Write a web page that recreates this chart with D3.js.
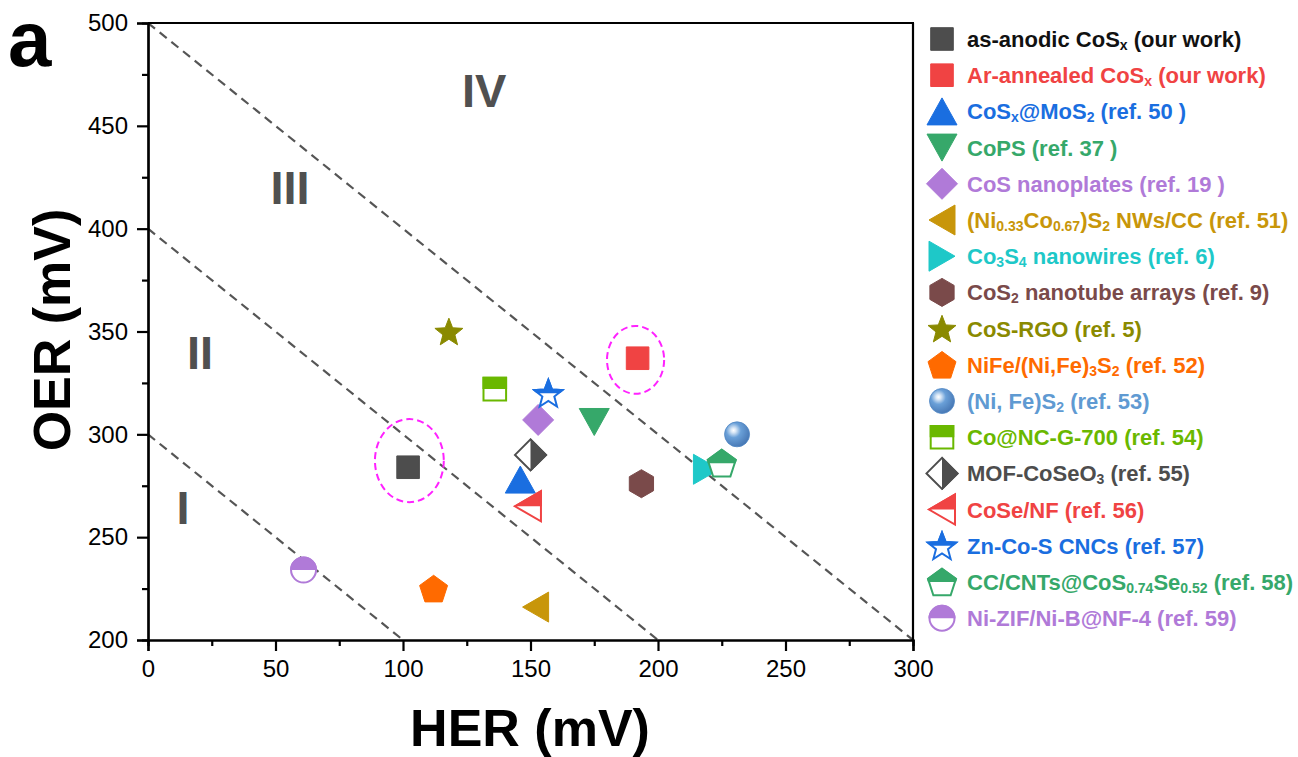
<!DOCTYPE html>
<html><head><meta charset="utf-8">
<script src="https://cdn.jsdelivr.net/npm/d3@7"></script>
<style>body{margin:0;background:#fff}svg{display:block}text{font-family:"Liberation Sans",Arial,Helvetica,sans-serif}</style>
</head><body><svg id="c" width="1298" height="757"></svg>
<script>
// ---------- data ----------
const names = [
  "as-anodic CoS_{x} (our work)",
  "Ar-annealed CoS_{x} (our work)",
  "CoS_{x}@MoS_{2} (ref. 50 )",
  "CoPS (ref. 37 )",
  "CoS nanoplates (ref. 19 )",
  "(Ni_{0.33}Co_{0.67})S_{2} NWs/CC (ref. 51)",
  "Co_{3}S_{4} nanowires (ref. 6)",
  "CoS_{2} nanotube arrays (ref. 9)",
  "CoS-RGO (ref. 5)",
  "NiFe/(Ni,Fe)_{3}S_{2} (ref. 52)",
  "(Ni, Fe)S_{2} (ref. 53)",
  "Co@NC-G-700 (ref. 54)",
  "MOF-CoSeO_{3} (ref. 55)",
  "CoSe/NF (ref. 56)",
  "Zn-Co-S CNCs (ref. 57)",
  "CC/CNTs@CoS_{0.74}Se_{0.52} (ref. 58)",
  "Ni-ZIF/Ni-B@NF-4 (ref. 59)"
];
const herValues = [102, 192, 146, 175, 153, 152, 219, 193.5, 118, 112, 231, 136, 150, 149, 157, 225, 61];
const oerValues = [284, 337, 278, 306, 307, 216, 283, 276, 350, 225, 300, 322, 290, 265, 320, 286, 234];
const markerShapes = ["square","square","triUp","triDown","diamond","triLeft","triRight","hexagon","star","pentagon","sphere","square","diamond","triLeft","star","pentagon","circle"];
const markerFill = ["full","full","full","full","full","full","full","full","full","full","full","top","right","top","top","top","top"];
const markerColors = ["#4d4d4d","#f04343","#1a6ee0","#36a86a","#b07ad8","#c8960a","#1ec8c8","#7a4a4a","#8a8a00","#ff6a00","#5f9ad2","#6ab800","#4d4d4d","#f04343","#1a6ee0","#36a86a","#b07ad8"];
const textColors = ["#111111","#f04343","#1a6ee0","#36a86a","#b07ad8","#c8960a","#1ec8c8","#7a4a4a","#8a8a00","#ff6a00","#5f9ad2","#6ab800","#4d4d4d","#f04343","#1a6ee0","#36a86a","#b07ad8"];
const xTicks = [0, 50, 100, 150, 200, 250, 300];
const yTicks = [200, 250, 300, 350, 400, 450, 500];
const guideSums = [300, 400, 500];           // HER + OER = const
const regionNames = ["I", "II", "III", "IV"];
const regionHer = [13.7, 20.4, 55.7, 131.8];
const regionOer = [256.4, 331.8, 412, 459.2];
const highlightHer = [102.5, 191.2];
const highlightOer = [287.2, 336.2];
const highlightRx = [13.5, 11.2];
const highlightRy = [20.2, 16.5];

// ---------- layout ----------
const svg = d3.select("#c");
const L = 148, R = 913, T = 23, B = 640;
const x = d3.scaleLinear().domain([0, 300]).range([L, R]);
const y = d3.scaleLinear().domain([200, 500]).range([B, T]);

const defs = svg.append("defs");
defs.append("clipPath").attr("id","clipTop").append("rect").attr("x",-40).attr("y",-40).attr("width",80).attr("height",40);
defs.append("clipPath").attr("id","clipRight").append("rect").attr("x",0).attr("y",-40).attr("width",40).attr("height",80);
defs.append("clipPath").attr("id","plotClip").append("rect").attr("x",L).attr("y",T).attr("width",R-L).attr("height",B-T);
const grad = defs.append("radialGradient").attr("id","sphereGrad").attr("cx","0.36").attr("cy","0.34").attr("r","0.7").attr("fx","0.36").attr("fy","0.34");
grad.append("stop").attr("offset","0").attr("stop-color","#ffffff");
grad.append("stop").attr("offset","0.14").attr("stop-color","#d9e7f6");
grad.append("stop").attr("offset","0.42").attr("stop-color","#6aa0d8");
grad.append("stop").attr("offset","1").attr("stop-color","#4676b3");

function shapePath(s) {
  const pts = [];
  const poly = p => "M" + p.map(q => q[0].toFixed(2) + "," + q[1].toFixed(2)).join("L") + "Z";
  switch (s) {
    case "square": { const h = 11.3; return poly([[-h,-h],[h,-h],[h,h],[-h,h]]); }
    case "triUp": { const w = 15, h = 13.5; return poly([[0,-h],[w,h],[-w,h]]); }
    case "triDown": { const w = 15, h = 13.5; return poly([[0,h],[w,-h],[-w,-h]]); }
    case "triLeft": { const w = 13, h = 15; return poly([[-w,0],[w,-h],[w,h]]); }
    case "triRight": { const w = 13, h = 15; return poly([[w,0],[-w,-h],[-w,h]]); }
    case "diamond": { const r = 15.5; return poly([[0,-r],[r,0],[0,r],[-r,0]]); }
    case "hexagon": { const r = 14; for (let i=0;i<6;i++){const a=-Math.PI/2+i*Math.PI/3; pts.push([r*Math.cos(a), r*Math.sin(a)]);} return poly(pts); }
    case "pentagon": { const r = 14.7, off = (r - r*Math.cos(Math.PI/5))/2; for (let i=0;i<5;i++){const a=-Math.PI/2+i*2*Math.PI/5; pts.push([r*Math.cos(a), r*Math.sin(a)+off]);} return poly(pts); }
    case "star": { const r = 14.7, ri = 6.3, off = (r - r*Math.cos(Math.PI/5))/2; for (let i=0;i<10;i++){const a=-Math.PI/2+i*Math.PI/5; const rr = i%2? ri : r; pts.push([rr*Math.cos(a), rr*Math.sin(a)+off]);} return poly(pts); }
    default: { const r = 12.5; return `M${-r},0A${r},${r} 0 1,0 ${r},0A${r},${r} 0 1,0 ${-r},0Z`; }
  }
}

function drawMarker(g, i) {
  const s = markerShapes[i], c = markerColors[i], f = markerFill[i];
  const d = shapePath(s);
  if (s === "sphere") {
    g.append("path").attr("d", shapePath("sphere")).attr("fill","url(#sphereGrad)").attr("stroke","#4f86c4").attr("stroke-width",0.8);
    return;
  }
  if (f === "full") {
    g.append("path").attr("d", d).attr("fill", c).attr("stroke", c).attr("stroke-width", 1).attr("stroke-linejoin","miter");
  } else {
    g.append("path").attr("d", d).attr("fill", "#fff").attr("stroke", c).attr("stroke-width", 2);
    g.append("path").attr("d", d).attr("fill", c).attr("stroke", c).attr("stroke-width", 2)
      .attr("clip-path", f === "top" ? "url(#clipTop)" : "url(#clipRight)");
  }
}

// ---------- guide lines ----------
const plot = svg.append("g").attr("clip-path","url(#plotClip)");
plot.selectAll("line.guide").data(guideSums).join("line").attr("class","guide")
  .attr("x1", d => x(0)).attr("y1", d => y(d))
  .attr("x2", d => x(d - 200)).attr("y2", d => y(200))
  .attr("stroke","#555").attr("stroke-width",2.2).attr("stroke-dasharray","9,6");

// region labels
svg.selectAll("text.region").data(regionNames).join("text").attr("class","region")
  .attr("x",(d,i)=>x(regionHer[i])).attr("y",(d,i)=>y(regionOer[i]))
  .attr("text-anchor","middle").attr("font-size",47).attr("font-weight","bold").attr("fill","#505050")
  .text(d=>d);

// highlight ellipses
svg.selectAll("ellipse.hl").data(highlightHer).join("ellipse").attr("class","hl")
  .attr("cx",(d,i)=>x(d)).attr("cy",(d,i)=>y(highlightOer[i]))
  .attr("rx",(d,i)=>x(highlightRx[i]) - x(0)).attr("ry",(d,i)=>y(200) - y(200 + highlightRy[i]))
  .attr("fill","none").attr("stroke","#ff22ff").attr("stroke-width",2).attr("stroke-dasharray","7,4");

// ---------- axes ----------
const ax = svg.append("g");
ax.append("line").attr("x1",L).attr("x2",R+1).attr("y1",T).attr("y2",T).attr("stroke","#000").attr("stroke-width",2.2);
ax.append("line").attr("x1",R).attr("x2",R).attr("y1",T).attr("y2",B).attr("stroke","#000").attr("stroke-width",2.2);

const xAxis = d3.axisBottom(x).tickValues(xTicks).tickSize(11).tickPadding(9).tickFormat(d3.format("d"));
const xMinor = d3.axisBottom(x).tickValues(d3.range(25, 300, 50)).tickSize(6).tickFormat("");
const yAxis = d3.axisLeft(y).tickValues(yTicks).tickSize(11).tickPadding(9).tickFormat(d3.format("d"));
const yMinor = d3.axisLeft(y).tickValues(d3.range(225, 500, 50)).tickSize(6).tickFormat("");

function styleAxis(g) {
  g.select(".domain").attr("stroke","#000").attr("stroke-width",2.2);
  g.selectAll(".tick line").attr("stroke","#000").attr("stroke-width",2.2);
  g.selectAll(".tick text").attr("font-size",24).attr("fill","#000").style("font-family",'"Liberation Sans",Arial,sans-serif');
}
ax.append("g").attr("transform",`translate(0,${B})`).call(xMinor).call(styleAxis);
ax.append("g").attr("transform",`translate(0,${B})`).call(xAxis).call(styleAxis);
ax.append("g").attr("transform",`translate(${L},0)`).call(yMinor).call(styleAxis);
ax.append("g").attr("transform",`translate(${L},0)`).call(yAxis).call(styleAxis);
ax.selectAll("g.tick").filter(function(){ return d3.select(this).select("text").text() === ""; }).select("text").remove();

// axis titles
svg.append("text").attr("x", 530).attr("y", 746).attr("text-anchor","middle")
  .attr("font-size",52).attr("font-weight","bold").attr("fill","#000").text("HER (mV)");
svg.append("text").attr("transform","translate(70,330) rotate(-90)").attr("text-anchor","middle")
  .attr("font-size",52).attr("font-weight","bold").attr("fill","#000").text("OER (mV)");
svg.append("text").attr("x",8).attr("y",66).attr("font-size",78).attr("font-weight","bold").attr("fill","#000").text("a");

// ---------- data points ----------
const pts = svg.append("g");
names.forEach((n, i) => {
  const g = pts.append("g").attr("transform", `translate(${x(herValues[i])},${y(oerValues[i])})`);
  drawMarker(g, i);
});

// ---------- legend ----------
function richText(sel, str) {
  const parts = str.split(/(_\{[^}]*\})/).filter(p => p.length);
  let shift = 0;
  parts.forEach(p => {
    if (p.startsWith("_{")) {
      sel.append("tspan").attr("font-size",14).attr("dy",3 - shift).text(p.slice(2,-1));
      shift = 3;
    } else {
      sel.append("tspan").attr("dy", -shift).text(p);
      shift = 0;
    }
  });
}
const legTop = 39, legStep = 36.2;
names.forEach((n, i) => {
  const cy = legTop + i * legStep;
  const g = svg.append("g").attr("transform", `translate(942,${cy})`);
  drawMarker(g, i);
  const t = svg.append("text").attr("x", 967).attr("y", cy + 8)
    .attr("font-size", 22).attr("font-weight","bold").attr("fill", textColors[i]);
  richText(t, n);
});
</script></body></html>
